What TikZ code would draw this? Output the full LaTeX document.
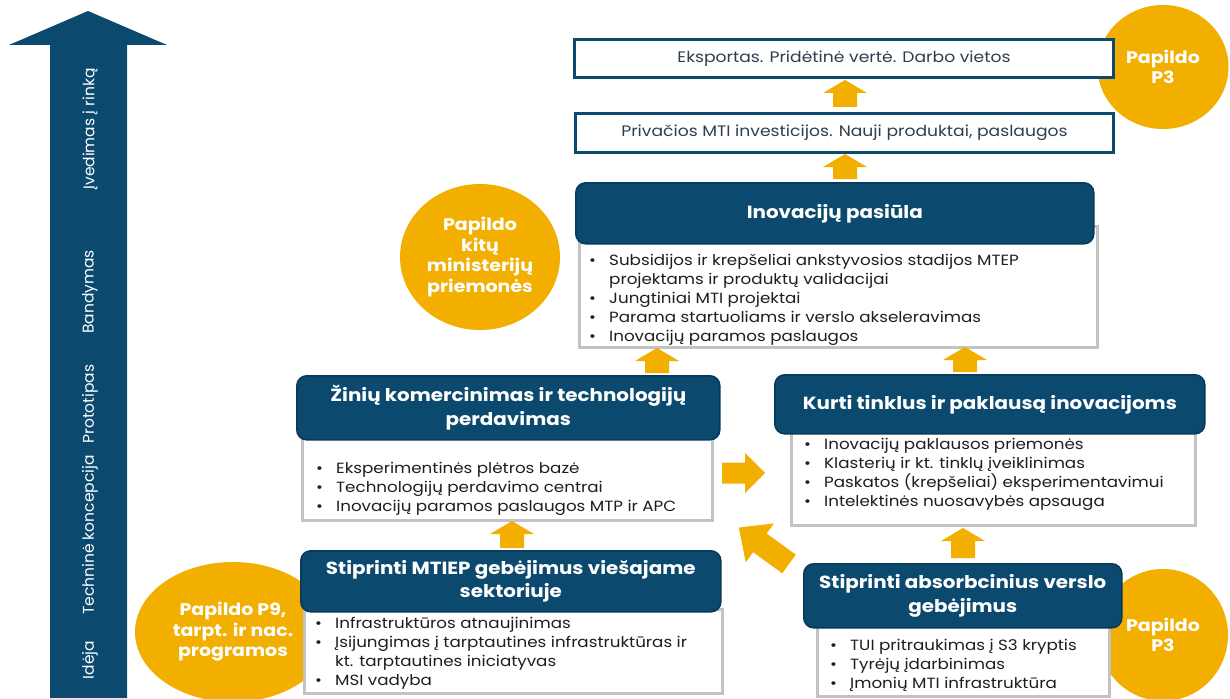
\documentclass[tikz,border=0pt]{standalone}
\usepackage{fontspec}
\setmainfont{Poppins}[FakeStretch=1.13]
\newfontfamily\stagefont{Poppins}
\usetikzlibrary{shapes.geometric}
\definecolor{navy}{HTML}{0B4A6E}
\definecolor{navyd}{HTML}{07395A}
\definecolor{gold}{HTML}{F2AF00}
\definecolor{greyb}{HTML}{C3C3C3}
\definecolor{txt}{HTML}{1E1E1E}
\definecolor{txtb}{HTML}{2E3E4E}
\newcommand\bl{\makebox[20pt][l]{\textbullet}}
\newcommand\ct{\hspace*{20pt}}
\tikzset{
  hdr/.style={draw=navyd, line width=1.6pt, fill=navy, rounded corners=10pt, text=white,
    font=\bfseries\fontsize{17.6}{23.5}\selectfont, align=center, inner sep=0pt, anchor=north west},
  bodybox/.style={draw=greyb, line width=2.6pt, fill=white, inner sep=0pt, anchor=north west},
  topbox/.style={draw=navy, line width=3pt, fill=white, text=txtb, inner sep=0pt, anchor=north west,
    font=\fontsize{15.2}{18}\selectfont},
  blist/.style={anchor=north west, inner sep=0pt, align=left, text=txt, font=\fontsize{14.8}{19}\selectfont},
  gcirc/.style={ellipse, fill=gold, text=white, align=center, inner sep=0pt,
    font=\bfseries\fontsize{16.8}{20.5}\selectfont},
  stage/.style={rotate=90, text=white, font=\stagefont\fontsize{15.5}{17}\selectfont, inner sep=0pt},
  pics/barrow/.style n args={4}{code={
    \fill[gold] (0,-#2) -- ({#1-#4},-#2) -- ({#1-#4},-#3) -- (#1,0) -- ({#1-#4},#3) -- ({#1-#4},#2) -- (0,#2) -- cycle;}}
}
\begin{document}
\begin{tikzpicture}[x=1pt,y=-1pt]
\useasboundingbox (0,0) rectangle (1230,698);
\fill[white] (0,0) rectangle (1230,698);

% big stage arrow
\fill[navy] (50,698) -- (50,45) -- (9,45) -- (88,11) -- (167,45) -- (127,45) -- (127,698) -- cycle;
\node[stage] (s1) at (90,660) {Idėja};
\node[stage] (s2) at (90,535) {Techninė koncepcija};
\node[stage] (s3) at (90,404) {Prototipas};
\node[stage] (s4) at (90,292) {Bandymas};
\node[stage] (s5) at (90,129) {Įvedimas į rinką};

% supplementary circles
\node[gcirc, minimum width=131, minimum height=124] (c1) at (1163,67) {Papildo\\P3};
\node[gcirc, minimum width=160, minimum height=146] (c2) at (480,257) {Papildo\\kitų\\ministerijų\\priemonės};
\node[gcirc, minimum width=196, minimum height=140] (c3) at (233,632) {Papildo P9,\\tarpt. ir nac.\\programos};
\node[gcirc, minimum width=130, minimum height=132] (c4) at (1163,635) {Papildo\\P3};

% top boxes
\node[topbox, minimum width=539, minimum height=38] (exp) at (573,38) {Eksportas. Pridėtinė vertė. Darbo vietos};
\node[topbox, minimum width=538, minimum height=39] (priv) at (574,112) {Privačios MTI investicijos. Nauji produktai, paslaugos};

% Inovaciju pasiula
\node[bodybox, minimum width=518, minimum height=121] (inob) at (578,225) {};
\node[hdr, minimum width=518, minimum height=61] (inoh) at (575,182) {Inovacijų pasiūla};
\node[blist] (inol) at (589,252) {\strut\bl Subsidijos ir krepšeliai ankstyvosios stadijos MTEP\\
\ct projektams ir produktų validacijai\\
\bl Jungtiniai MTI projektai\\
\bl Parama startuoliams ir verslo akseleravimas\\
\bl Inovacijų paramos paslaugos};

% Ziniu komercinimas
\node[bodybox, minimum width=410, minimum height=89] (zinb) at (301,430) {};
\node[hdr, minimum width=423, minimum height=64] (zinh) at (296,375) {Žinių komercinimas ir technologijų\\perdavimas};
\node[blist] (zinl) at (316,460) {\strut\bl Eksperimentinės plėtros bazė\\
\bl Technologijų perdavimo centrai\\
\bl Inovacijų paramos paslaugos MTP ir APC};

% Kurti tinklus
\node[bodybox, minimum width=404, minimum height=96] (kurb) at (790,428) {};
\node[hdr, minimum width=430, minimum height=59] (kurh) at (774,374) {Kurti tinklus ir paklausą inovacijoms};
\node[blist] (kurl) at (804,436) {\strut\bl Inovacijų paklausos priemonės\\
\bl Klasterių ir kt. tinklų įveiklinimas\\
\bl Paskatos (krepšeliai) eksperimentavimui\\
\bl Intelektinės nuosavybės apsauga};

% Stiprinti MTIEP
\node[bodybox, minimum width=418, minimum height=84] (mtib) at (303,608) {};
\node[hdr, minimum width=420, minimum height=61] (mtih) at (300,550) {Stiprinti MTIEP gebėjimus viešajame\\sektoriuje};
\node[blist] (mtil) at (315,615) {\strut\bl Infrastruktūros atnaujinimas\\
\bl Įsijungimas į tarptautines infrastruktūras ir\\
\ct kt. tarptautines iniciatyvas\\
\bl MSI vadyba};

% Stiprinti absorbcinius
\node[bodybox, minimum width=292, minimum height=75] (absb) at (816,620) {};
\node[hdr, minimum width=318, minimum height=64] (absh) at (803,563) {Stiprinti absorbcinius verslo\\gebėjimus};
\node[blist] (absl) at (830,637) {\strut\bl TUI pritraukimas į S3 kryptis\\
\bl Tyrėjų įdarbinimas\\
\bl Įmonių MTI infrastruktūra};

% block arrows
\pic[rotate=90] at (845,107) {barrow={27}{12}{22}{13}};
\pic[rotate=90] at (845,179) {barrow={25}{12}{22}{13}};
\pic[rotate=90] at (657,373) {barrow={25}{12}{22}{13}};
\pic[rotate=90] at (965,372) {barrow={25}{12}{22}{13}};
\pic[rotate=90] at (512,548) {barrow={27}{12}{22}{13}};
\pic[rotate=90] at (963,558) {barrow={30}{12}{22}{13}};
\pic at (722,473) {barrow={43}{10.5}{20}{20}};
\pic[rotate=144] at (789,564) {barrow={62}{11.5}{24}{26}};
\end{tikzpicture}
\end{document}
